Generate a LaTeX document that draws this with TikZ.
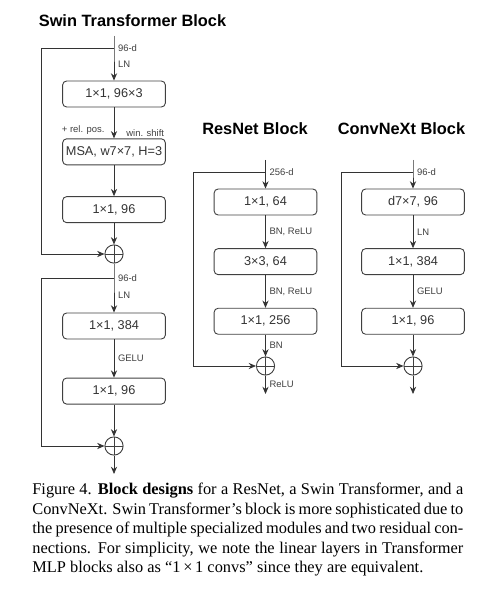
\documentclass[tikz,border=0pt]{standalone}
\usepackage{fontspec}
\setmainfont{Liberation Serif}
\setsansfont{Liberation Sans}
\usetikzlibrary{positioning,arrows.meta}

\begin{document}
\begin{tikzpicture}[x=0.55pt, y=-0.55pt, font=\sffamily]

\tikzstyle{layer}=[rectangle, rounded corners=2.2pt, draw=black!75, line width=0.5pt, minimum width=56.5pt, minimum height=14.3pt, inner sep=1pt, text=black!80, font=\sffamily\fontsize{7}{8}\selectfont]
\tikzstyle{sum}=[circle, draw=black!75, line width=0.5pt, minimum size=10pt, inner sep=0pt, path picture={\draw[line width=0.5pt, black!75] (path picture bounding box.north) -- (path picture bounding box.south) (path picture bounding box.west) -- (path picture bounding box.east);}]
\tikzstyle{pil}=[-{Stealth[length=4pt, width=3.4pt]}, line width=0.45pt, draw=black!80]
\tikzstyle{tag}=[font=\sffamily\fontsize{5.2}{6}\selectfont, text=black!75, inner sep=1pt]
\tikzstyle{title}=[font=\sffamily\bfseries\fontsize{9}{11}\selectfont]

\useasboundingbox (0,0) rectangle (486,603);

% Swin Transformer
\node[title] (swintitle) at (132.5,21) {Swin Transformer Block};
\coordinate (s0) at (114,36);
\coordinate (s1) at (114,48);
\node[layer] (sA) at (114,94) {1×1, 96×3};
\node[layer, below=17pt of sA] (sB) {MSA, w7×7, H=3};
\node[layer, below=17pt of sB] (sC) {1×1, 96};
\node[sum] (sP1) at (114,254) {};
\coordinate (s2) at (114,278);
\node[layer] (sD) at (114,326) {1×1, 384};
\node[layer, below=21pt of sD] (sE) {1×1, 96};
\node[sum] (sP2) at (114,446) {};
\coordinate (s3) at (114,474);

\node[tag, anchor=south east] (relpos) at ([xshift=-4pt, yshift=1pt]sB.north) {+ rel. pos.};
\node[tag, anchor=south west] (winshift) at ([xshift=5.6pt]sB.north) {win. shift};

\draw[pil] (s0) -- (s1) node[tag, right, xshift=1pt] {96-d} -- node[tag, right, xshift=1pt] {LN} (sA);
\draw[pil] (sA) -- (sB);
\draw[pil] (sB) -- (sC);
\draw[pil] (sC) -- (sP1);
\draw[pil] (sP1) -- (s2) node[tag, right, xshift=1pt] {96-d} -- node[tag, right, xshift=1pt] {LN} (sD);
\draw[pil] (sD) -- node[tag, right, xshift=1pt] {GELU} (sE);
\draw[pil] (sE) -- (sP2);
\draw[pil] (sP2) -- (s3);
\draw[pil] (s1) -- ++(-73,0) |- (sP1.west);
\draw[pil] (s2) -- ++(-73,0) |- (sP2.west);

% ResNet
\node[title] (restitle) at (255,129) {ResNet Block};
\coordinate (r0) at (265.5,160);
\coordinate (r1) at (265.5,172);
\node[layer] (rA) at (265.5,202) {1×1, 64};
\node[layer, below=18pt of rA] (rB) {3×3, 64};
\node[layer, below=18pt of rB] (rC) {1×1, 256};
\node[sum] (rP) at (265.5,366) {};
\coordinate (r2) at (265.5,394);

\draw[pil] (r0) -- (r1) node[tag, right, xshift=1pt] {256-d} -- (rA);
\draw[pil] (rA) -- node[tag, right, xshift=1pt] {BN, ReLU} (rB);
\draw[pil] (rB) -- node[tag, right, xshift=1pt] {BN, ReLU} (rC);
\draw[pil] (rC) -- node[tag, right, xshift=1pt] {BN} (rP);
\draw[pil] (rP) -- node[tag, right, xshift=1pt] {ReLU} (r2);
\draw[pil] (r1) -- ++(-72.5,0) |- (rP.west);

% ConvNeXt
\node[title] (cnxtitle) at (401.5,129) {ConvNeXt Block};
\coordinate (c0) at (413,160);
\coordinate (c1) at (413,172);
\node[layer] (cA) at (413,202) {d7×7, 96};
\node[layer, below=18pt of cA] (cB) {1×1, 384};
\node[layer, below=18pt of cB] (cC) {1×1, 96};
\node[sum] (cP) at (413,366) {};
\coordinate (c2) at (413,394);

\draw[pil] (c0) -- (c1) node[tag, right, xshift=1pt] {96-d} -- (cA);
\draw[pil] (cA) -- node[tag, right, xshift=1pt] {LN} (cB);
\draw[pil] (cB) -- node[tag, right, xshift=1pt] {GELU} (cC);
\draw[pil] (cC) -- (cP);
\draw[pil] (cP) -- (c2);
\draw[pil] (c1) -- ++(-72,0) |- (cP.west);

% caption
\node[anchor=north west, text width=237pt, align=justify, inner sep=0pt, font=\rmfamily\fontsize{9}{10.7}\selectfont] (caption) at (32,483) {Figure 4. \textbf{Block designs} for a ResNet, a Swin Transformer, and a\linebreak ConvNeXt. Swin Transformer’s block is more sophisticated due to\linebreak the presence of multiple specialized modules and two residual con-\linebreak nections. For simplicity, we note the linear layers in Transformer\linebreak MLP blocks also as “1\,×\,1 convs” since they are equivalent.};

\end{tikzpicture}
\end{document}
